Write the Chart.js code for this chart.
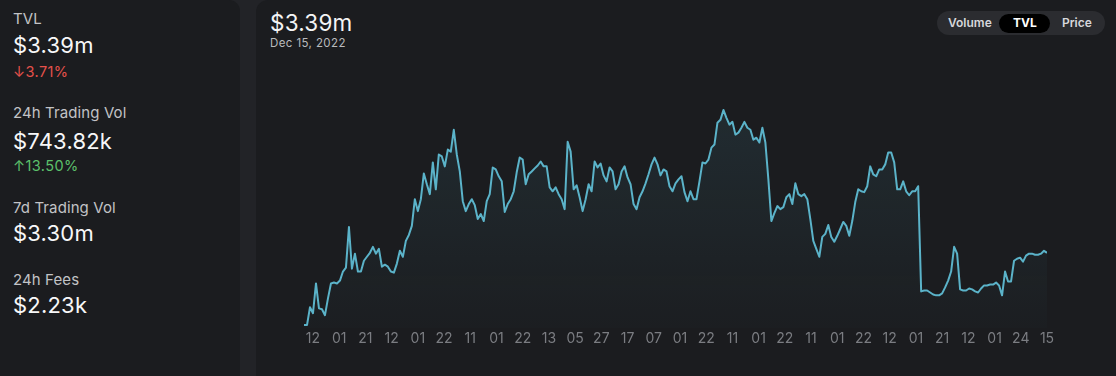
<!DOCTYPE html>
<html>
<head>
<meta charset="utf-8">
<script src="https://cdn.jsdelivr.net/npm/chart.js@4"></script>
<style>
  body { margin: 0; width: 1116px; height: 376px; overflow: hidden; background: #222327; font-family: Inter, "Noto Sans", sans-serif; color: #f4f4f5; }
  .panel { position: absolute; background: #1b1c1f; }
  #left { left: 0; top: 0; width: 240px; height: 376px; border-radius: 0 11px 0 0; }
  #right { left: 256px; top: 0; width: 860px; height: 376px; border-radius: 12px 0 0 0; }
  .t { position: absolute; white-space: nowrap; line-height: 1; }
  .lbl { left: 13px; font-size: 15px; color: #c2c3c6; letter-spacing: 0.1px; }
  .big { left: 13px; font-size: 22px; font-weight: 400; color: #f7f7f8; letter-spacing: 0.2px; }
  .chg { left: 13px; font-size: 14.5px; letter-spacing: 0.4px; }
  .down { color: #e5514b; }
  .up { color: #5cc06b; }
  #toggle { position: absolute; left: 937px; top: 11px; width: 168px; height: 24px; border-radius: 12px; background: #2b2c30; }
  #active { position: absolute; left: 999px; top: 14px; width: 51px; height: 19px; border-radius: 10px; background: #000; }
  .tg { position: absolute; top: 17px; font-size: 12px; font-weight: 600; color: #d6d7da; line-height: 1; }
  #chartBox { position: absolute; left: 256px; top: 60px; width: 860px; height: 300px; }
</style>
</head>
<body>
<div id="left" class="panel"></div>
<div id="right" class="panel"></div>

<div class="t lbl" style="top:11px">TVL</div>
<div class="t big" style="top:34px">$3.39m</div>
<div class="t chg down" style="top:65px">↓3.71%</div>

<div class="t lbl" style="top:105px">24h Trading Vol</div>
<div class="t big" style="top:130px">$743.82k</div>
<div class="t chg up" style="top:159px">↑13.50%</div>

<div class="t lbl" style="top:200px">7d Trading Vol</div>
<div class="t big" style="top:222px">$3.30m</div>

<div class="t lbl" style="top:272px">24h Fees</div>
<div class="t big" style="top:294px">$2.23k</div>

<div class="t" style="left:270px; top:12px; font-size:22.5px; font-weight:400; letter-spacing:0.2px;">$3.39m</div>
<div class="t" style="left:270px; top:38px; font-size:11.5px; color:#b9babd; letter-spacing:0.4px;">Dec 15, 2022</div>

<div id="toggle"></div>
<div id="active"></div>
<div class="tg" style="left:948px">Volume</div>
<div class="tg" style="left:1013px; color:#fff; font-weight:700">TVL</div>
<div class="tg" style="left:1062px">Price</div>

<div id="chartBox"><canvas id="tvl"></canvas></div>

<script>
// TVL history, $m
var tvlValues = [
  0.14, 0.14, 0.95, 0.68, 2.03, 0.90, 0.86, 0.59, 1.35, 2.03,
  2.07, 2.03, 2.16, 2.57, 2.75, 4.59, 2.70, 3.38, 2.57, 2.57,
  3.06, 3.24, 3.42, 3.69, 3.38, 3.60, 2.79, 2.88, 2.79, 2.57,
  2.52, 2.93, 3.51, 3.24, 3.96, 4.23, 4.64, 5.85, 5.31, 5.85,
  7.02, 6.53, 6.08, 7.52, 6.30, 7.88, 7.79, 7.34, 8.10, 8.01,
  9.00, 7.88, 7.11, 5.76, 5.31, 5.63, 5.85, 5.58, 4.95, 5.18,
  4.86, 5.76, 6.08, 7.29, 7.20, 6.89, 6.66, 5.27, 5.63, 5.85,
  6.21, 7.07, 7.74, 7.65, 6.53, 6.98, 7.11, 7.25, 7.38, 7.56,
  7.34, 7.34, 6.39, 6.21, 6.39, 6.08, 5.85, 5.40, 8.46, 8.01,
  6.30, 6.48, 5.94, 5.31, 5.85, 6.53, 6.21, 7.56, 7.29, 7.47,
  6.93, 6.66, 7.29, 7.11, 6.30, 6.53, 7.11, 7.34, 6.84, 6.53,
  5.63, 5.40, 5.94, 6.21, 6.57, 6.98, 7.43, 7.74, 7.43, 6.93,
  7.20, 7.11, 6.44, 6.21, 6.57, 6.75, 6.89, 6.17, 5.76, 6.21,
  5.85, 5.85, 6.66, 7.52, 7.47, 7.65, 8.19, 8.33, 9.32, 9.45,
  9.90, 9.54, 9.23, 9.36, 8.78, 8.87, 9.09, 9.36, 9.09, 9.00,
  8.55, 8.64, 8.42, 9.09, 8.42, 6.75, 4.86, 5.22, 5.54, 5.40,
  5.49, 5.94, 6.08, 5.63, 6.57, 6.08, 5.99, 6.08, 5.85, 4.95,
  3.96, 3.60, 3.24, 4.14, 4.28, 4.68, 4.14, 3.92, 4.19, 4.50,
  4.82, 4.64, 4.19, 4.86, 5.72, 6.30, 6.21, 6.17, 6.44, 7.34,
  6.98, 6.89, 7.20, 7.20, 7.43, 7.97, 7.97, 7.52, 6.30, 6.30,
  6.66, 6.21, 6.03, 6.21, 6.21, 6.44, 1.67, 1.71, 1.71, 1.62,
  1.53, 1.49, 1.49, 1.58, 1.85, 2.16, 2.57, 3.69, 3.38, 1.76,
  1.71, 1.71, 1.80, 1.76, 1.67, 1.62, 1.80, 1.94, 1.94, 1.98,
  1.98, 2.07, 1.94, 1.49, 2.57, 2.12, 2.12, 3.06, 3.15, 3.20,
  3.02, 3.29, 3.38, 3.38, 3.33, 3.33, 3.38, 3.51, 3.42
];

var tickLabels = ['12', '01', '21', '12', '01', '22', '11', '01', '22', '13', '05', '27', '17', '07', '01',
                  '22', '11', '01', '22', '11', '01', '22', '12', '01', '21', '12', '01', '24', '15'];

var lastIndex = tvlValues.length - 1;
var tickStart = 3;
var tickStep = (lastIndex - tickStart) / (tickLabels.length - 1);

var points = tvlValues.map(function (v, i) { return { x: i, y: v }; });

var ctx = document.getElementById('tvl').getContext('2d');
var myChart = new Chart(ctx, {
    type: 'line',
    data: {
        datasets: [{
            label: 'TVL',
            data: points,
            borderColor: '#5bb3c9',
            borderWidth: 2,
            borderJoinStyle: 'round',
            pointRadius: 0,
            tension: 0,
            fill: 'origin',
            backgroundColor: function (context) {
                var area = context.chart.chartArea;
                if (!area) return 'rgba(91, 179, 201, 0.06)';
                var g = context.chart.ctx.createLinearGradient(0, area.top, 0, area.bottom);
                g.addColorStop(0, 'rgba(91, 179, 201, 0.11)');
                g.addColorStop(1, 'rgba(91, 179, 201, 0.015)');
                return g;
            }
        }]
    },
    options: {
        responsive: true,
        maintainAspectRatio: false,
        animation: false,
        layout: { padding: { left: 48, right: 69, top: 40, bottom: 11 } },
        plugins: { legend: { display: false }, tooltip: { enabled: false } },
        scales: {
            x: {
                type: 'linear',
                min: 0,
                max: lastIndex,
                grid: { display: false, drawTicks: false },
                border: { display: false },
                afterBuildTicks: function (scale) {
                    scale.ticks = tickLabels.map(function (l, k) {
                        return { value: tickStart + k * tickStep };
                    });
                },
                ticks: {
                    autoSkip: false,
                    maxRotation: 0,
                    padding: 2,
                    color: '#7b7d82',
                    font: { family: 'Inter', size: 14 },
                    callback: function (value, index) { return tickLabels[index]; }
                }
            },
            y: {
                display: false,
                min: 0,
                max: 10.35
            }
        }
    }
});
</script>
</body>
</html>
